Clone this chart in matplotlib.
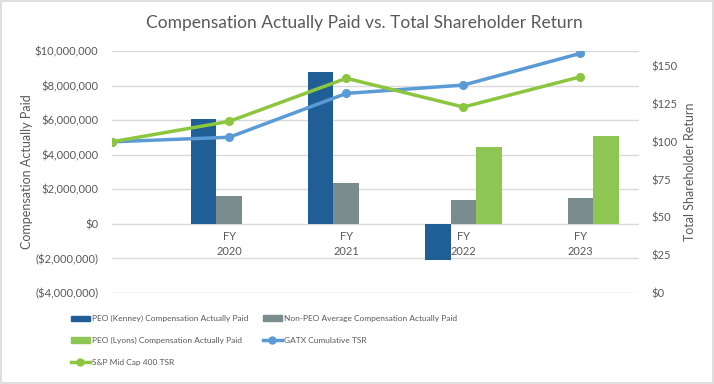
import numpy as np
import matplotlib.pyplot as plt
from matplotlib.patches import Patch, Rectangle
from matplotlib.lines import Line2D

plt.rcParams['font.family'] = ['Lato', 'DejaVu Sans']

# datos
anios = ["", "FY\n2020", "FY\n2021", "FY\n2022", "FY\n2023"]
peo_kenney = [0, 6050000, 8800000, -2100000, 0]
no_peo = [0, 1630000, 2370000, 1380000, 1490000]
peo_lyons = [0, 0, 0, 4440000, 5060000]
tsr_gatx = [100, 103, 132, 137.5, 158.5]
tsr_sp = [100, 113.5, 142, 123, 143]

gris_texto = '#595959'
c_kenney = '#1F5F95'
c_nopeo = '#7B8C8E'
c_lyons = '#8DC653'
c_gatx = '#5B9BD5'
c_sp = '#8CC63F'

fig = plt.figure(figsize=(7.14, 3.84), dpi=100)
ax = fig.add_axes([0.157, 0.237, 0.738, 0.63])
ax2 = ax.twinx()

x = np.arange(len(anios))
w = 0.219
ax.bar(x - w, peo_kenney, w, color=c_kenney, zorder=2)
ax.bar(x, no_peo, w, color=c_nopeo, zorder=2)
ax.bar(x + w, peo_lyons, w, color=c_lyons, zorder=2)

ax2.plot(x, tsr_gatx, color=c_gatx, lw=2.5, marker='o', ms=5.5)
ax2.plot(x, tsr_sp, color=c_sp, lw=2.5, marker='o', ms=5.5)

ax.set_xlim(0, 4.5)
ax.set_ylim(-4000000, 10000000)
ax2.set_ylim(0, 160)
ax.set_yticks(np.arange(-4000000, 10000001, 2000000))
ax.set_yticklabels(['($4,000,000)', '($2,000,000)', '$0', '$2,000,000', '$4,000,000',
                    '$6,000,000', '$8,000,000', '$10,000,000'])
ax2.set_yticks(np.arange(0, 151, 25))
ax2.set_yticklabels(['$' + str(v) for v in range(0, 151, 25)])
ax.set_xticks([])
ax.grid(axis='y', color='#D9D9D9', lw=1, zorder=0)

for a in (ax, ax2):
    for s in a.spines.values():
        s.set_visible(False)
    a.tick_params(length=0, labelsize=8, labelcolor=gris_texto)
ax.tick_params(axis='y', pad=10)
ax2.tick_params(axis='y', pad=9)

# etiquetas de categoria junto al eje en y=0
for xi, etiqueta in zip(x, anios):
    ax.text(xi, -420000, etiqueta, ha='center', va='top', fontsize=8,
            color=gris_texto, linespacing=1.4)

ax.set_ylabel('Compensation Actually Paid', fontsize=9, color=gris_texto)
ax2.set_ylabel('Total Shareholder Return', fontsize=9, color=gris_texto)
ax.yaxis.set_label_coords(-0.15, 0.5)
ax2.yaxis.set_label_coords(1.086, 0.5)

fig.text(0.511, 0.94, 'Compensation Actually Paid vs. Total Shareholder Return',
         ha='center', va='center', fontsize=12.5, color=gris_texto)

# leyenda en dos columnas colocadas a mano
col1 = [
    Patch(color=c_kenney, label='PEO (Kenney) Compensation Actually Paid'),
    Patch(color=c_lyons, label='PEO (Lyons) Compensation Actually Paid'),
    Line2D([], [], color=c_sp, lw=2.5, marker='o', ms=5, label='S&P Mid Cap 400 TSR'),
]
col2 = [
    Patch(color=c_nopeo, label='Non-PEO Average Compensation Actually Paid'),
    Line2D([], [], color=c_gatx, lw=2.5, marker='o', ms=5, label='GATX Cumulative TSR'),
]
opciones = dict(loc='upper left', frameon=False, fontsize=6.0, handlelength=2.3,
                handleheight=0.65, handletextpad=0.3, labelspacing=1.75, borderpad=0)
leg1 = fig.legend(handles=col1, bbox_to_anchor=(0.093, 0.19), **opciones)
leg2 = fig.legend(handles=col2, bbox_to_anchor=(0.362, 0.19), **opciones)
for leg in (leg1, leg2):
    for t in leg.get_texts():
        t.set_color(gris_texto)

# marco del grafico
fig.patches.append(Rectangle((0.002, 0.003), 0.996, 0.994, transform=fig.transFigure,
                             fill=False, edgecolor='#D9D9D9', lw=1.2))

fig.savefig('out.png', dpi=100)
